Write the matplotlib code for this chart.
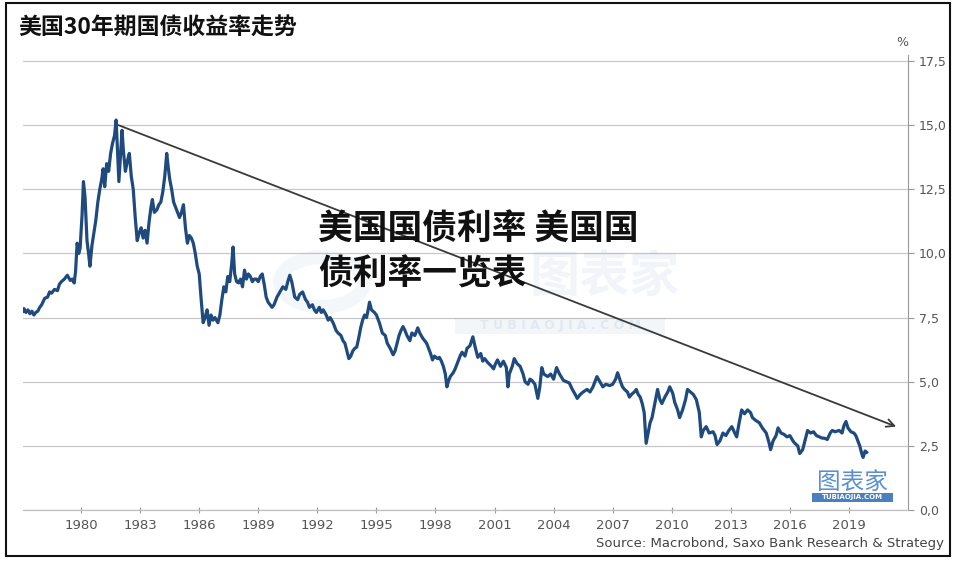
import numpy as np
import matplotlib
matplotlib.use('Agg')
import matplotlib.pyplot as plt
from matplotlib.patches import Rectangle, Circle

# US 30y treasury yield (year, %)
years = [1977.05, 1977.10, 1977.20, 1977.30, 1977.40, 1977.50, 1977.60, 1977.70, 1977.80, 1977.90,
         1978.00, 1978.15, 1978.30, 1978.40, 1978.50, 1978.65, 1978.80, 1978.90, 1979.00, 1979.15,
         1979.30, 1979.45, 1979.55, 1979.65, 1979.72, 1979.80, 1979.88, 1979.95, 1980.05, 1980.12,
         1980.20, 1980.30, 1980.38, 1980.45, 1980.55, 1980.65, 1980.75, 1980.85, 1980.95, 1981.05,
         1981.12, 1981.20, 1981.30, 1981.40, 1981.50, 1981.60, 1981.70, 1981.78, 1981.85, 1981.92,
         1982.00, 1982.08, 1982.15, 1982.25, 1982.35, 1982.45, 1982.55, 1982.65, 1982.75, 1982.85,
         1982.95, 1983.05, 1983.15, 1983.25, 1983.35, 1983.45, 1983.55, 1983.62, 1983.72, 1983.85,
         1983.95, 1984.05, 1984.15, 1984.25, 1984.35, 1984.42, 1984.50, 1984.60, 1984.70, 1984.80,
         1984.90, 1985.00, 1985.10, 1985.20, 1985.30, 1985.40, 1985.50, 1985.60, 1985.70, 1985.80,
         1985.90, 1986.00, 1986.10, 1986.20, 1986.30, 1986.40, 1986.50, 1986.60, 1986.70, 1986.80,
         1986.95, 1987.05, 1987.15, 1987.25, 1987.35, 1987.45, 1987.55, 1987.65, 1987.72, 1987.80,
         1987.90, 1988.00, 1988.10, 1988.20, 1988.30, 1988.40, 1988.50, 1988.60, 1988.70, 1988.80,
         1988.90, 1989.00, 1989.10, 1989.20, 1989.30, 1989.40, 1989.50, 1989.60, 1989.70, 1989.80,
         1989.95, 1990.10, 1990.25, 1990.40, 1990.50, 1990.60, 1990.70, 1990.85, 1991.00, 1991.10,
         1991.25, 1991.40, 1991.50, 1991.60, 1991.75, 1991.85, 1991.95, 1992.10, 1992.20, 1992.30,
         1992.45, 1992.55, 1992.65, 1992.80, 1992.95, 1993.05, 1993.20, 1993.30, 1993.40, 1993.50,
         1993.60, 1993.70, 1993.80, 1993.90, 1994.00, 1994.10, 1994.20, 1994.30, 1994.40, 1994.50,
         1994.58, 1994.65, 1994.75, 1994.90, 1995.00, 1995.15, 1995.30, 1995.45, 1995.55, 1995.70,
         1995.85, 1995.95, 1996.05, 1996.15, 1996.25, 1996.35, 1996.45, 1996.55, 1996.70, 1996.80,
         1996.95, 1997.10, 1997.20, 1997.35, 1997.45, 1997.55, 1997.65, 1997.75, 1997.85, 1997.95,
         1998.10, 1998.20, 1998.30, 1998.40, 1998.50, 1998.58, 1998.65, 1998.75, 1998.90, 1999.00,
         1999.15, 1999.25, 1999.35, 1999.50, 1999.60, 1999.75, 1999.90, 2000.00, 2000.15, 2000.30,
         2000.40, 2000.50, 2000.65, 2000.85, 2000.95, 2001.05, 2001.15, 2001.30, 2001.45, 2001.60,
         2001.68, 2001.75, 2001.90, 2002.00, 2002.15, 2002.30, 2002.45, 2002.55, 2002.70, 2002.80,
         2002.90, 2003.05, 2003.20, 2003.30, 2003.40, 2003.50, 2003.70, 2003.85, 2004.00, 2004.15,
         2004.30, 2004.50, 2004.65, 2004.80, 2004.95, 2005.10, 2005.20, 2005.35, 2005.50, 2005.70,
         2005.85, 2006.00, 2006.20, 2006.35, 2006.50, 2006.65, 2006.85, 2007.00, 2007.15, 2007.25,
         2007.40, 2007.50, 2007.60, 2007.75, 2007.85, 2007.95, 2008.10, 2008.20, 2008.30, 2008.40,
         2008.50, 2008.60, 2008.70, 2008.80, 2008.90, 2009.00, 2009.10, 2009.20, 2009.28, 2009.40,
         2009.50, 2009.65, 2009.80, 2009.90, 2010.05, 2010.15, 2010.30, 2010.40, 2010.55, 2010.70,
         2010.80, 2010.95, 2011.10, 2011.25, 2011.40, 2011.50, 2011.60, 2011.75, 2011.90, 2012.10,
         2012.20, 2012.30, 2012.45, 2012.60, 2012.75, 2012.90, 2013.05, 2013.20, 2013.30, 2013.40,
         2013.55, 2013.70, 2013.85, 2014.00, 2014.10, 2014.25, 2014.45, 2014.60, 2014.80, 2014.95,
         2015.02, 2015.15, 2015.30, 2015.40, 2015.55, 2015.70, 2015.85, 2016.00, 2016.15, 2016.25,
         2016.40, 2016.50, 2016.65, 2016.80, 2016.90, 2017.05, 2017.20, 2017.35, 2017.50, 2017.65,
         2017.75, 2017.90, 2018.05, 2018.15, 2018.30, 2018.50, 2018.65, 2018.75, 2018.85, 2018.95,
         2019.10, 2019.25, 2019.35, 2019.45, 2019.55, 2019.65, 2019.72, 2019.82, 2019.90]
yields = [7.75, 7.85, 7.70, 7.80, 7.65, 7.75, 7.60, 7.70, 7.75, 7.90,
          8.00, 8.25, 8.30, 8.50, 8.45, 8.60, 8.55, 8.80, 8.90, 9.00,
          9.15, 8.95, 9.00, 8.85, 9.30, 10.40, 10.00, 10.20, 11.50, 12.80,
          12.20, 10.50, 10.00, 9.50, 10.30, 10.80, 11.30, 12.00, 12.50, 12.90,
          13.30, 12.60, 13.50, 13.20, 13.90, 14.30, 14.60, 15.20, 14.00, 12.80,
          13.80, 14.80, 14.00, 13.20, 13.60, 13.90, 13.00, 12.50, 11.40, 10.50,
          10.80, 11.00, 10.60, 10.90, 10.40, 11.20, 11.80, 12.10, 11.60, 11.70,
          11.90, 12.00, 12.40, 13.00, 13.90, 13.40, 12.90, 12.50, 12.00, 11.80,
          11.60, 11.40, 11.60, 11.90, 11.00, 10.40, 10.70, 10.60, 10.40, 10.00,
          9.50, 9.20, 8.20, 7.30, 7.50, 7.80, 7.20, 7.60, 7.40, 7.50,
          7.30, 7.60, 8.20, 8.70, 8.50, 9.10, 8.90, 9.60, 10.25, 9.20,
          8.90, 8.85, 9.00, 8.70, 9.35, 9.00, 9.20, 9.10, 8.90, 9.00,
          9.00, 8.90, 9.10, 9.20, 8.80, 8.30, 8.10, 8.00, 7.90, 8.00,
          8.30, 8.50, 8.70, 8.60, 8.90, 9.15, 8.90, 8.30, 8.20, 8.40,
          8.50, 8.20, 8.10, 7.90, 8.00, 7.80, 7.70, 7.90, 7.70, 7.80,
          7.60, 7.40, 7.50, 7.30, 7.00, 6.90, 6.80, 6.60, 6.50, 6.20,
          5.90, 6.00, 6.20, 6.30, 6.35, 6.70, 7.10, 7.40, 7.60, 7.50,
          7.80, 8.10, 7.80, 7.70, 7.60, 7.30, 6.90, 6.80, 6.50, 6.30,
          6.05, 6.20, 6.50, 6.80, 7.00, 7.15, 7.00, 6.80, 6.60, 6.90,
          6.80, 7.10, 6.90, 6.70, 6.60, 6.50, 6.30, 6.10, 5.85, 6.00,
          5.90, 5.95, 5.80, 5.60, 5.30, 4.80, 5.00, 5.20, 5.35, 5.50,
          5.80, 6.00, 6.15, 6.00, 6.30, 6.40, 6.75, 6.40, 5.95, 6.10,
          5.80, 5.90, 5.75, 5.60, 5.50, 5.70, 5.85, 5.60, 5.80, 5.55,
          4.80, 5.30, 5.60, 5.90, 5.70, 5.60, 5.30, 5.00, 4.90, 5.10,
          5.05, 4.90, 4.35, 4.80, 5.55, 5.30, 5.20, 5.30, 5.10, 5.55,
          5.30, 5.05, 5.00, 4.95, 4.70, 4.50, 4.35, 4.50, 4.60, 4.70,
          4.60, 4.80, 5.20, 5.00, 4.80, 4.90, 4.85, 4.90, 5.10, 5.35,
          5.00, 4.80, 4.70, 4.60, 4.40, 4.50, 4.60, 4.70, 4.50, 4.40,
          4.15, 3.80, 2.60, 3.00, 3.40, 3.60, 4.00, 4.40, 4.70, 4.30,
          4.15, 4.40, 4.60, 4.80, 4.55, 4.20, 3.90, 3.60, 3.90, 4.30,
          4.70, 4.60, 4.50, 4.30, 3.80, 2.85, 3.10, 3.25, 3.00, 3.05,
          2.90, 2.55, 2.70, 3.00, 2.90, 3.10, 3.25, 3.00, 2.85, 3.30,
          3.90, 3.75, 3.90, 3.80, 3.60, 3.50, 3.40, 3.20, 3.00, 2.60,
          2.35, 2.70, 2.90, 3.20, 3.00, 2.95, 2.85, 2.90, 2.70, 2.60,
          2.50, 2.20, 2.35, 2.80, 3.10, 3.00, 3.05, 2.90, 2.85, 2.80,
          2.80, 2.75, 3.00, 3.10, 3.05, 3.10, 3.00, 3.30, 3.45, 3.20,
          3.05, 3.00, 2.90, 2.70, 2.50, 2.20, 2.05, 2.30, 2.25]

xticks = [1980, 1983, 1986, 1989, 1992, 1995, 1998, 2001, 2004, 2007, 2010, 2013, 2016, 2019]
yticks = [0, 2.5, 5, 7.5, 10, 12.5, 15, 17.5]
ytick_labels = ['0,0', '2,5', '5,0', '7,5', '10,0', '12,5', '15,0', '17,5']

# trend arrow (start / end)
arrow_from = (1981.9, 15.0)
arrow_to = (2021.4, 3.25)

title = '美国30年期国债收益率走势'
source = 'Source: Macrobond, Saxo Bank Research & Strategy'
overlay_lines = ['美国国债利率 美国国', '债利率一览表']

cjk = ['Noto Sans CJK SC', 'DejaVu Sans']

fig = plt.figure(figsize=(9.58, 5.64), dpi=100)
W, H = 958, 564

ax = fig.add_axes([23 / W, 54 / H, 885 / W, 455.4 / H])
ax.plot(years, yields, color='#1f4a7e', lw=2.3, zorder=3)
ax.set_xlim(1977.05, 2022.0)
ax.set_ylim(0, 17.75)

ax.set_xticks(xticks)
ax.set_xticklabels([str(y) for y in xticks])
ax.set_yticks(yticks)
ax.set_yticklabels(ytick_labels)
ax.yaxis.tick_right()
ax.tick_params(axis='y', which='both', right=True, left=False, labelright=True, labelleft=False,
               length=4, width=0.8, color='#999999', labelsize=9, labelcolor='#555555', pad=4)
ax.tick_params(axis='x', direction='inout', length=5, width=0.8, color='#999999',
               labelsize=9.5, labelcolor='#555555', pad=4)
ax.yaxis.grid(True, color='#c8c8c8', lw=0.9)
ax.set_axisbelow(True)
for s in ['left', 'top']:
    ax.spines[s].set_visible(False)
ax.spines['right'].set_color('#999999')
ax.spines['right'].set_linewidth(0.8)
ax.spines['bottom'].set_color('#c0c0c0')
ax.spines['bottom'].set_linewidth(0.9)

ax.annotate('', xy=arrow_to, xytext=arrow_from,
            arrowprops=dict(arrowstyle='->', color='#3a3a3a', lw=1.3,
                            shrinkA=0, shrinkB=0, mutation_scale=14), zorder=4)

# faint watermark in the middle (kept clear of the headline)
fig.text(604 / W, 1 - 278 / H, '图表家', family=cjk, fontsize=36, weight='bold',
         color='#3a6ea5', alpha=0.07, ha='center', va='center')
fig.patches.append(Rectangle((455 / W, 1 - 334 / H), 210 / W, 16 / H, transform=fig.transFigure,
                             color='#3a6ea5', alpha=0.06, lw=0))
fig.text(560 / W, 1 - 326 / H, 'T U B I A O J I A . C O M', fontsize=9, weight='bold',
         color='#3a6ea5', alpha=0.1, ha='center', va='center')
fig.patches.append(Circle((322 / W, 1 - 282 / H), 42 / W, transform=fig.transFigure,
                          fill=False, ec='#3a6ea5', lw=10, alpha=0.05))

# overlay headline, one text per line
fig.text(318 / W, 1 - 228 / H, overlay_lines[0], family=cjk, fontsize=25, weight=900,
         color='#111111', ha='left', va='center', zorder=10)
fig.text(318 / W, 1 - 274 / H, overlay_lines[1], family=cjk, fontsize=25, weight=900,
         color='#111111', ha='left', va='center', zorder=10)

# small logo bottom right
fig.text(852 / W, 1 - 482 / H, '图表家', family=cjk, fontsize=17, color='#5a8fd0',
         ha='center', va='center')
fig.patches.append(Rectangle((812 / W, 1 - 502 / H), 81 / W, 9 / H, transform=fig.transFigure,
                             color='#4a7fc0', lw=0))
fig.text(852 / W, 1 - 497.5 / H, 'TUBIAOJIA.COM', fontsize=5, color='white', weight='bold',
         ha='center', va='center')

fig.text(18 / W, 1 - 28 / H, title, family=cjk, fontsize=16.5, weight='bold',
         color='#111111', ha='left', va='center')
fig.text(902 / W, 1 - 43 / H, '%', fontsize=9, color='#555555', ha='center', va='center')
fig.text(944 / W, 1 - 543 / H, source, fontsize=9.5, color='#444444', ha='right', va='center')

# outer frame
fig.patches.append(Rectangle((6 / W, 1 - 556 / H), 944 / W, 553 / H, transform=fig.transFigure,
                             fill=False, ec='#111111', lw=1.5))

plt.savefig('out.png', dpi=100)
